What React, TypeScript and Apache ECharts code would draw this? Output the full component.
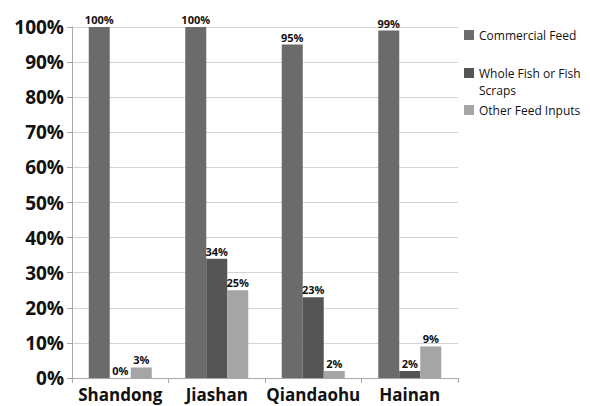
import React, { useEffect, useRef } from "react";
import * as echarts from "echarts";

const regions = ["Shandong", "Jiashan", "Qiandaohu", "Hainan"];
const commercialFeed = [100, 100, 95, 99];
const wholeFish = [0, 34, 23, 2];
const otherInputs = [3, 25, 2, 9];
const yTicks = [0, 10, 20, 30, 40, 50, 60, 70, 80, 90, 100];

const FONT = "'Open Sans', 'DejaVu Sans', sans-serif";

export default function App() {
  const ref = useRef<HTMLDivElement>(null);

  useEffect(() => {
    if (!ref.current) return;
    const chart = echarts.init(ref.current, null, { renderer: "svg" });

    const label = {
      show: true,
      position: "top" as const,
      distance: 2,
      formatter: "{c}%",
      color: "#111",
      fontFamily: FONT,
      fontWeight: "bold" as const,
      fontSize: 11,
    };

    const mkSeries = (name: string, data: number[], color: string) => ({
      name,
      type: "bar" as const,
      data,
      barWidth: 21,
      barGap: "0%",
      itemStyle: { color },
      label,
    });

    const legendBase = {
      orient: "vertical" as const,
      left: 464,
      padding: 0,
      itemWidth: 10,
      itemHeight: 10,
      itemGap: 5,
      icon: "rect",
      textStyle: { fontFamily: FONT, fontSize: 12, color: "#111", lineHeight: 17 },
    };

    chart.setOption({
      animation: false,
      backgroundColor: "#ffffff",
      grid: { left: 72, right: 132, top: 27, bottom: 28, containLabel: false },
      legend: [
        { ...legendBase, top: 26.5, data: ["Commercial Feed"] },
        {
          ...legendBase,
          // a blank leading line keeps the swatch level with the first line of text
          top: 47.5,
          data: ["Whole Fish or Fish Scraps"],
          formatter: () => " \nWhole Fish or Fish\nScraps",
        },
        { ...legendBase, top: 101.5, data: ["Other Feed Inputs"] },
      ],
      xAxis: {
        type: "category",
        data: regions,
        axisLine: { lineStyle: { color: "#a8a8a8" } },
        axisTick: { show: true, length: 5, lineStyle: { color: "#a8a8a8" } },
        axisLabel: {
          interval: 0,
          color: "#111",
          fontFamily: FONT,
          fontWeight: "bold",
          fontSize: 17,
          margin: 8,
        },
      },
      yAxis: {
        type: "value",
        min: yTicks[0],
        max: yTicks[yTicks.length - 1],
        interval: 10,
        axisLine: { show: true, lineStyle: { color: "#a8a8a8" } },
        axisTick: { show: true, length: 5, lineStyle: { color: "#a8a8a8" } },
        splitLine: { lineStyle: { color: "#d4d4d4" } },
        axisLabel: {
          color: "#111",
          fontFamily: FONT,
          fontWeight: "bold",
          fontSize: 19,
          margin: 8,
          formatter: "{value}%",
        },
      },
      series: [
        mkSeries("Commercial Feed", commercialFeed, "#6b6b6b"),
        mkSeries("Whole Fish or Fish Scraps", wholeFish, "#555555"),
        mkSeries("Other Feed Inputs", otherInputs, "#a5a5a5"),
      ],
    });

    return () => chart.dispose();
  }, []);

  return <div ref={ref} style={{ width: 590, height: 406, position: "absolute", left: 0, top: 0 }} />;
}
